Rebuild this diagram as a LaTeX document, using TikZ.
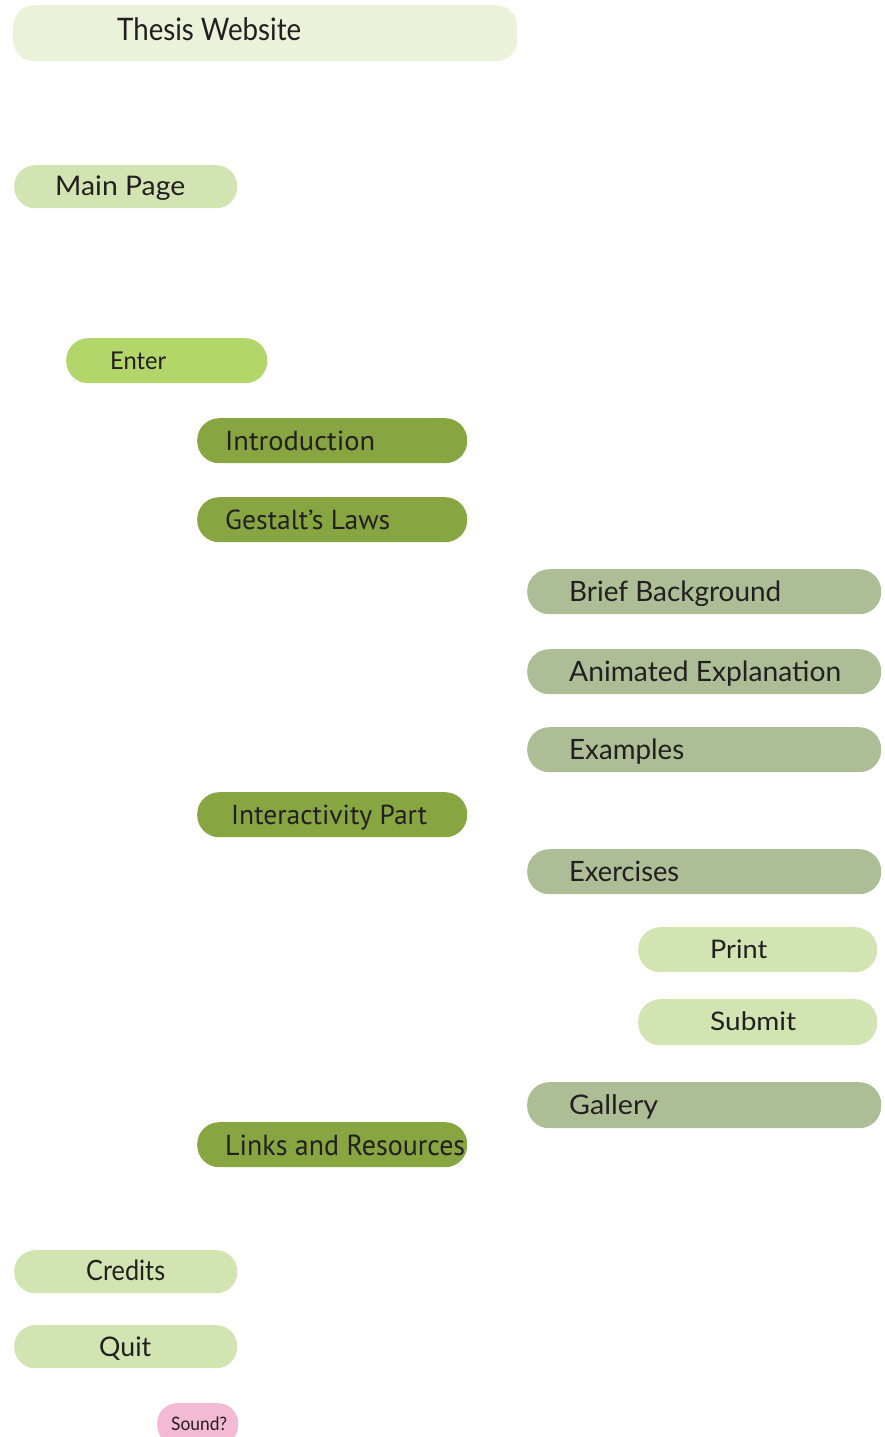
\documentclass[tikz,border=0pt]{standalone}
\usepackage{fontspec}
\usepackage{graphicx}
\setmainfont{Lato}
\newfontfamily\myr{PT Sans}
\definecolor{cTop}{HTML}{EAF3D9}
\definecolor{cLight}{HTML}{D3E4B3}
\definecolor{cEnter}{HTML}{B3D66B}
\definecolor{cDark}{HTML}{87A540}
\definecolor{cGrey}{HTML}{ADBD95}
\definecolor{cPink}{HTML}{F4BAD3}
\definecolor{cText}{HTML}{231F20}
\newcommand{\pilltext}[4]{\makebox[#1pt][l]{\hspace*{#2pt}\resizebox{#3pt}{\height}{#4}}}
\tikzset{
  pill/.style={rounded corners=21pt, inner xsep=0pt, inner ysep=0pt, anchor=north west,
    text=cText, text depth=0pt},
  bigpill/.style={pill, rounded corners=22pt},
}
\begin{document}
\begin{tikzpicture}[x=1pt,y=-1pt]
\useasboundingbox (0,0) rectangle (884,1437);
\node[pill, fill=cTop, minimum height=56pt, text height=22.4pt, text depth=7pt, font=\fontsize{31}{36}\selectfont] (thesis) at (13,5) {\pilltext{504}{104}{184}{Thesis Website}};
\node[pill, fill=cLight, minimum height=43pt, text height=19.4pt, text depth=2.4pt, font=\fontsize{27}{32}\selectfont] (main) at (14,165) {\pilltext{223}{41}{130}{Main Page}};
\node[bigpill, fill=cEnter, minimum height=45pt, text height=17.6pt, font=\fontsize{24.5}{29}\selectfont] (enter) at (66,338) {\pilltext{201}{44}{56}{Enter}};
\node[bigpill, fill=cDark, minimum height=45pt, text height=19.3pt, font=\myr\fontsize{27.5}{32}\selectfont] (intro) at (197,418) {\pilltext{270}{28}{150}{Introduction}};
\node[bigpill, fill=cDark, minimum height=45pt, text height=19.3pt, font=\myr\fontsize{27.5}{32}\selectfont] (gestalt) at (197,497) {\pilltext{270}{28}{165}{Gestalt’s Laws}};
\node[bigpill, fill=cGrey, minimum height=45pt, text height=20pt, font=\fontsize{28}{33}\selectfont] (brief) at (527,569) {\pilltext{354}{42}{212}{Brief Background}};
\node[bigpill, fill=cGrey, minimum height=45pt, text height=20pt, font=\fontsize{28}{33}\selectfont] (anim) at (527,649) {\pilltext{354}{42}{272}{Animated Explanation}};
\node[bigpill, fill=cGrey, minimum height=45pt, text height=20pt, font=\fontsize{28}{33}\selectfont] (examples) at (527,727) {\pilltext{354}{42}{115}{Examples}};
\node[bigpill, fill=cDark, minimum height=45pt, text height=19.3pt, font=\myr\fontsize{27.5}{32}\selectfont] (interact) at (197,792) {\pilltext{270}{34}{196}{Interactivity Part}};
\node[bigpill, fill=cGrey, minimum height=45pt, text height=20pt, font=\fontsize{28}{33}\selectfont] (exercises) at (527,849) {\pilltext{354}{42}{110}{Exercises}};
\node[bigpill, fill=cLight, minimum height=45pt, text height=18.4pt, font=\fontsize{25.6}{30}\selectfont] (print) at (638,927) {\pilltext{239}{72}{57}{Print}};
\node[bigpill, fill=cLight, minimum height=46pt, text height=18.4pt, text depth=2pt, font=\fontsize{25.6}{30}\selectfont] (submit) at (638,999) {\pilltext{239}{72}{86}{Submit}};
\node[bigpill, fill=cGrey, minimum height=46pt, text height=19pt, font=\fontsize{27}{32}\selectfont] (gallery) at (527,1082) {\pilltext{354}{42}{89}{Gallery}};
\node[bigpill, fill=cDark, minimum height=45pt, text height=21pt, font=\myr\fontsize{29}{34}\selectfont] (links) at (197,1122) {\pilltext{270}{28}{240}{Links and Resources}};
\node[pill, fill=cLight, minimum height=43pt, text height=20pt, text depth=3pt, font=\fontsize{28}{33}\selectfont] (credits) at (14,1250) {\pilltext{223}{72}{79}{Credits}};
\node[pill, fill=cLight, minimum height=43pt, text height=19.3pt, text depth=-3pt, font=\fontsize{27}{32}\selectfont] (quit) at (14,1325) {\pilltext{223}{85}{52}{Quit}};
\node[pill, fill=cPink, rounded corners=20pt, minimum height=42pt, text height=13.3pt, font=\fontsize{18.5}{22}\selectfont] (sound) at (157,1403) {\pilltext{81}{14}{56}{Sound?}};
\end{tikzpicture}
\end{document}
